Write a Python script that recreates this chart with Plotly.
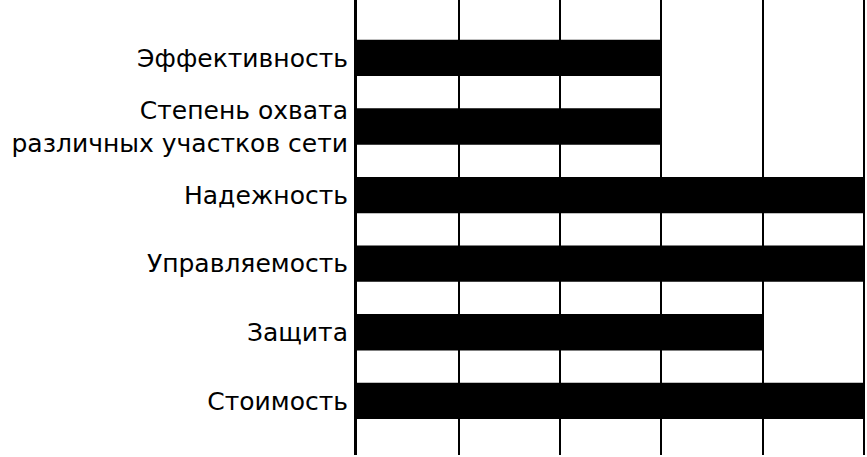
import plotly.graph_objects as go

# Data ---
categories = ['Эффективность',
              'Степень охвата<br>различных участков сети',
              'Надежность',
              'Управляемость',
              'Защита',
              'Стоимость']
scores = [3, 3, 5, 5, 4, 5]

# Figure ---
fig = go.Figure()

fig.add_trace(go.Bar(x=scores, y=categories, orientation='h',
                     marker=dict(color='black', line=dict(width=0)),
                     width=0.53))

fig.update_layout(
    width=867, height=457,
    margin=dict(l=357, r=1, t=0, b=2),
    plot_bgcolor='white', paper_bgcolor='white',
    showlegend=False,
    font=dict(family='DejaVu Sans', size=25, color='black'),
)

# range a touch past 5 so the last grid line stays inside the plot
fig.update_xaxes(range=[0, 5.015], dtick=1, showticklabels=False,
                 showgrid=True, gridcolor='black', gridwidth=2,
                 zeroline=False, showline=False)

fig.update_yaxes(type='category', categoryorder='array', categoryarray=categories,
                 range=[5.79, -0.845], showgrid=False, zeroline=False,
                 showline=True, linecolor='black', linewidth=3,
                 ticks='', ticklabelstandoff=1)

# page has a default 8px body margin, drop it so the chart sits at the corner
fig.write_html('out.html', config={'displayModeBar': False},
               post_script="document.body.style.margin='0';")
